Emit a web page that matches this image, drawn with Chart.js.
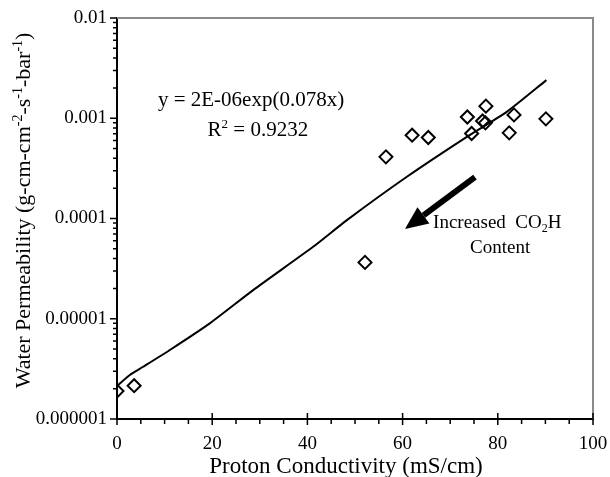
<!DOCTYPE html>
<html>
<head>
<meta charset="utf-8">
<script src="https://cdn.jsdelivr.net/npm/chart.js@4.4.1/dist/chart.umd.min.js"></script>
<style>
  html, body { margin: 0; padding: 0; background: #fff; }
</style>
</head>
<body>
<canvas id="chart" width="610" height="477"></canvas>
<script>
const conductivity = [0, 3.6, 52.1, 56.5, 62.0, 65.4, 73.6, 74.5, 76.8, 77.4, 77.5, 82.4, 83.4, 90.1];
const permeability = [1.9e-6, 2.15e-6, 3.65e-5, 4.12e-4, 6.78e-4, 6.43e-4, 1.03e-3, 7.05e-4, 9.4e-4, 9.0e-4, 1.32e-3, 7.15e-4, 1.08e-3, 9.86e-4];

// Exponential trendline
const trendX = [0, 2.7, 5.5, 11.1, 19.5, 28.6, 41.2, 48.3, 60.9, 73.5, 81.8, 90.2];
const trendY = [2.14e-6, 2.75e-6, 3.32e-6, 4.88e-6, 9.0e-6, 1.93e-5, 5.22e-5, 9.64e-5, 2.61e-4, 6.53e-4, 1.15e-3, 2.4e-3];

// Axis ticks
const xTickValues = [0, 20, 40, 60, 80, 100];
const xTickLabels = ['0', '20', '40', '60', '80', '100'];
const yTickValues = [1e-6, 1e-5, 1e-4, 1e-3, 1e-2];
const yTickLabels = ['0.000001', '0.00001', '0.0001', '0.001', '0.01'];

const serif = '"Liberation Serif", "Times New Roman", serif';

// draws text made of normal / superscript / subscript runs
function drawRich(ctx, parts, x, y, size, align) {
    const fontFor = k => (k ? Math.round(size * 0.62) : size) + 'px ' + serif;
    let total = 0;
    parts.forEach(([t, k]) => { ctx.font = fontFor(k); total += ctx.measureText(t).width; });
    let cx = align === 'center' ? x - total / 2 : x;
    ctx.textAlign = 'left';
    ctx.textBaseline = 'alphabetic';
    parts.forEach(([t, k]) => {
        ctx.font = fontFor(k);
        const dy = k === 'sup' ? -size * 0.38 : (k === 'sub' ? size * 0.22 : 0);
        ctx.fillText(t, cx, y + dy);
        cx += ctx.measureText(t).width;
    });
}

const extras = {
    id: 'extras',
    afterDraw(chart) {
        const ctx = chart.ctx;
        const area = chart.chartArea;
        const xs = chart.scales.x, ys = chart.scales.y;
        ctx.save();

        // grey frame on top and right
        ctx.strokeStyle = '#8a8a8a';
        ctx.lineWidth = 2;
        ctx.beginPath();
        ctx.moveTo(area.left, area.top);
        ctx.lineTo(area.right, area.top);
        ctx.lineTo(area.right, area.bottom);
        ctx.stroke();

        // tick marks: major and minor
        ctx.strokeStyle = '#000';
        ctx.lineWidth = 1.5;
        ctx.beginPath();
        for (let v = 0; v <= 100; v += 5) {
            const px = xs.getPixelForValue(v);
            if (v % 20 === 0) {
                ctx.moveTo(px, area.bottom - 6);
                ctx.lineTo(px, area.bottom + 6);
            } else {
                ctx.moveTo(px, area.bottom);
                ctx.lineTo(px, area.bottom + 5);
            }
        }
        yTickValues.forEach((dec, i) => {
            const py = ys.getPixelForValue(dec);
            ctx.moveTo(area.left - 7, py);
            ctx.lineTo(area.left, py);
            if (i < yTickValues.length - 1) {
                for (let m = 2; m <= 9; m++) {
                    const pm = ys.getPixelForValue(dec * m);
                    ctx.moveTo(area.left - 4, pm);
                    ctx.lineTo(area.left, pm);
                }
            }
        });
        ctx.stroke();

        ctx.fillStyle = '#000';

        // fit equation
        drawRich(ctx, [['y = 2E-06exp(0.078x)']], xs.getPixelForValue(8.6), ys.getPixelForValue(1.32e-3), 21, 'left');
        drawRich(ctx, [['R'], ['2', 'sup'], [' = 0.9232']], xs.getPixelForValue(29.6), ys.getPixelForValue(6.6e-4), 21, 'center');

        // arrow
        const tail = { x: xs.getPixelForValue(75.2), y: ys.getPixelForValue(2.59e-4) };
        const tip = { x: xs.getPixelForValue(60.5), y: ys.getPixelForValue(7.84e-5) };
        const ang = Math.atan2(tip.y - tail.y, tip.x - tail.x);
        const headLen = 23, headW = 10;
        const bx = tip.x - headLen * Math.cos(ang), by = tip.y - headLen * Math.sin(ang);
        ctx.lineWidth = 6;
        ctx.beginPath();
        ctx.moveTo(tail.x, tail.y);
        ctx.lineTo(bx, by);
        ctx.stroke();
        ctx.beginPath();
        ctx.moveTo(tip.x, tip.y);
        ctx.lineTo(bx - headW * Math.sin(ang), by + headW * Math.cos(ang));
        ctx.lineTo(bx + headW * Math.sin(ang), by - headW * Math.cos(ang));
        ctx.closePath();
        ctx.fill();

        drawRich(ctx, [['Increased  CO'], ['2', 'sub'], ['H']], xs.getPixelForValue(66.4), ys.getPixelForValue(8.0e-5), 19, 'left');
        drawRich(ctx, [['Content']], xs.getPixelForValue(80.5), ys.getPixelForValue(4.52e-5), 19, 'center');

        // x axis title
        drawRich(ctx, [['Proton Conductivity (mS/cm)']], 346, 473, 23, 'center');

        // y axis title with superscripts
        ctx.translate(30, (area.top + area.bottom) / 2 - 8);
        ctx.rotate(-Math.PI / 2);
        drawRich(ctx, [['Water Permeability (g-cm-cm'], ['-2', 'sup'], ['-s'], ['-1', 'sup'], ['-bar'], ['-1', 'sup'], [')']], 0, 0, 22, 'center');

        ctx.restore();
    }
};

new Chart(document.getElementById('chart'), {
    type: 'scatter',
    data: {
        datasets: [
            {
                label: 'Membranes',
                data: conductivity.map((x, i) => ({ x: x, y: permeability[i] })),
                pointStyle: 'rectRot',
                pointRadius: 6.5,
                borderColor: '#000',
                backgroundColor: 'rgba(0,0,0,0)',
                borderWidth: 2,
                order: 0
            },
            {
                label: 'Fit',
                type: 'line',
                data: trendX.map((x, i) => ({ x: x, y: trendY[i] })),
                borderColor: '#000',
                borderWidth: 2,
                pointRadius: 0,
                tension: 0.2,
                fill: false,
                order: 1
            }
        ]
    },
    options: {
        responsive: false,
        animation: false,
        layout: { padding: { top: 18, right: 17, left: 0, bottom: 0 } },
        plugins: { legend: { display: false }, tooltip: { enabled: false } },
        scales: {
            x: {
                type: 'linear',
                min: 0,
                max: 100,
                afterFit(s) { s.height = 58; s.paddingLeft = 0; s.paddingRight = 0; },
                afterBuildTicks(s) { s.ticks = xTickValues.map(v => ({ value: v })); },
                ticks: {
                    color: '#000',
                    font: { family: serif, size: 19 },
                    padding: 14,
                    maxRotation: 0,
                    callback: (v, i) => xTickLabels[i]
                },
                grid: { display: false, drawTicks: false },
                border: { display: true, color: '#000', width: 2 }
            },
            y: {
                type: 'logarithmic',
                min: 1e-6,
                max: 1e-2,
                afterFit(s) { s.width = 117; s.paddingTop = 0; s.paddingBottom = 0; },
                afterBuildTicks(s) { s.ticks = yTickValues.map(v => ({ value: v })); },
                ticks: {
                    color: '#000',
                    font: { family: serif, size: 19 },
                    padding: 10,
                    callback: (v, i) => yTickLabels[i]
                },
                grid: { display: false, drawTicks: false },
                border: { display: true, color: '#000', width: 2 }
            }
        }
    },
    plugins: [extras]
});
</script>
</body>
</html>
